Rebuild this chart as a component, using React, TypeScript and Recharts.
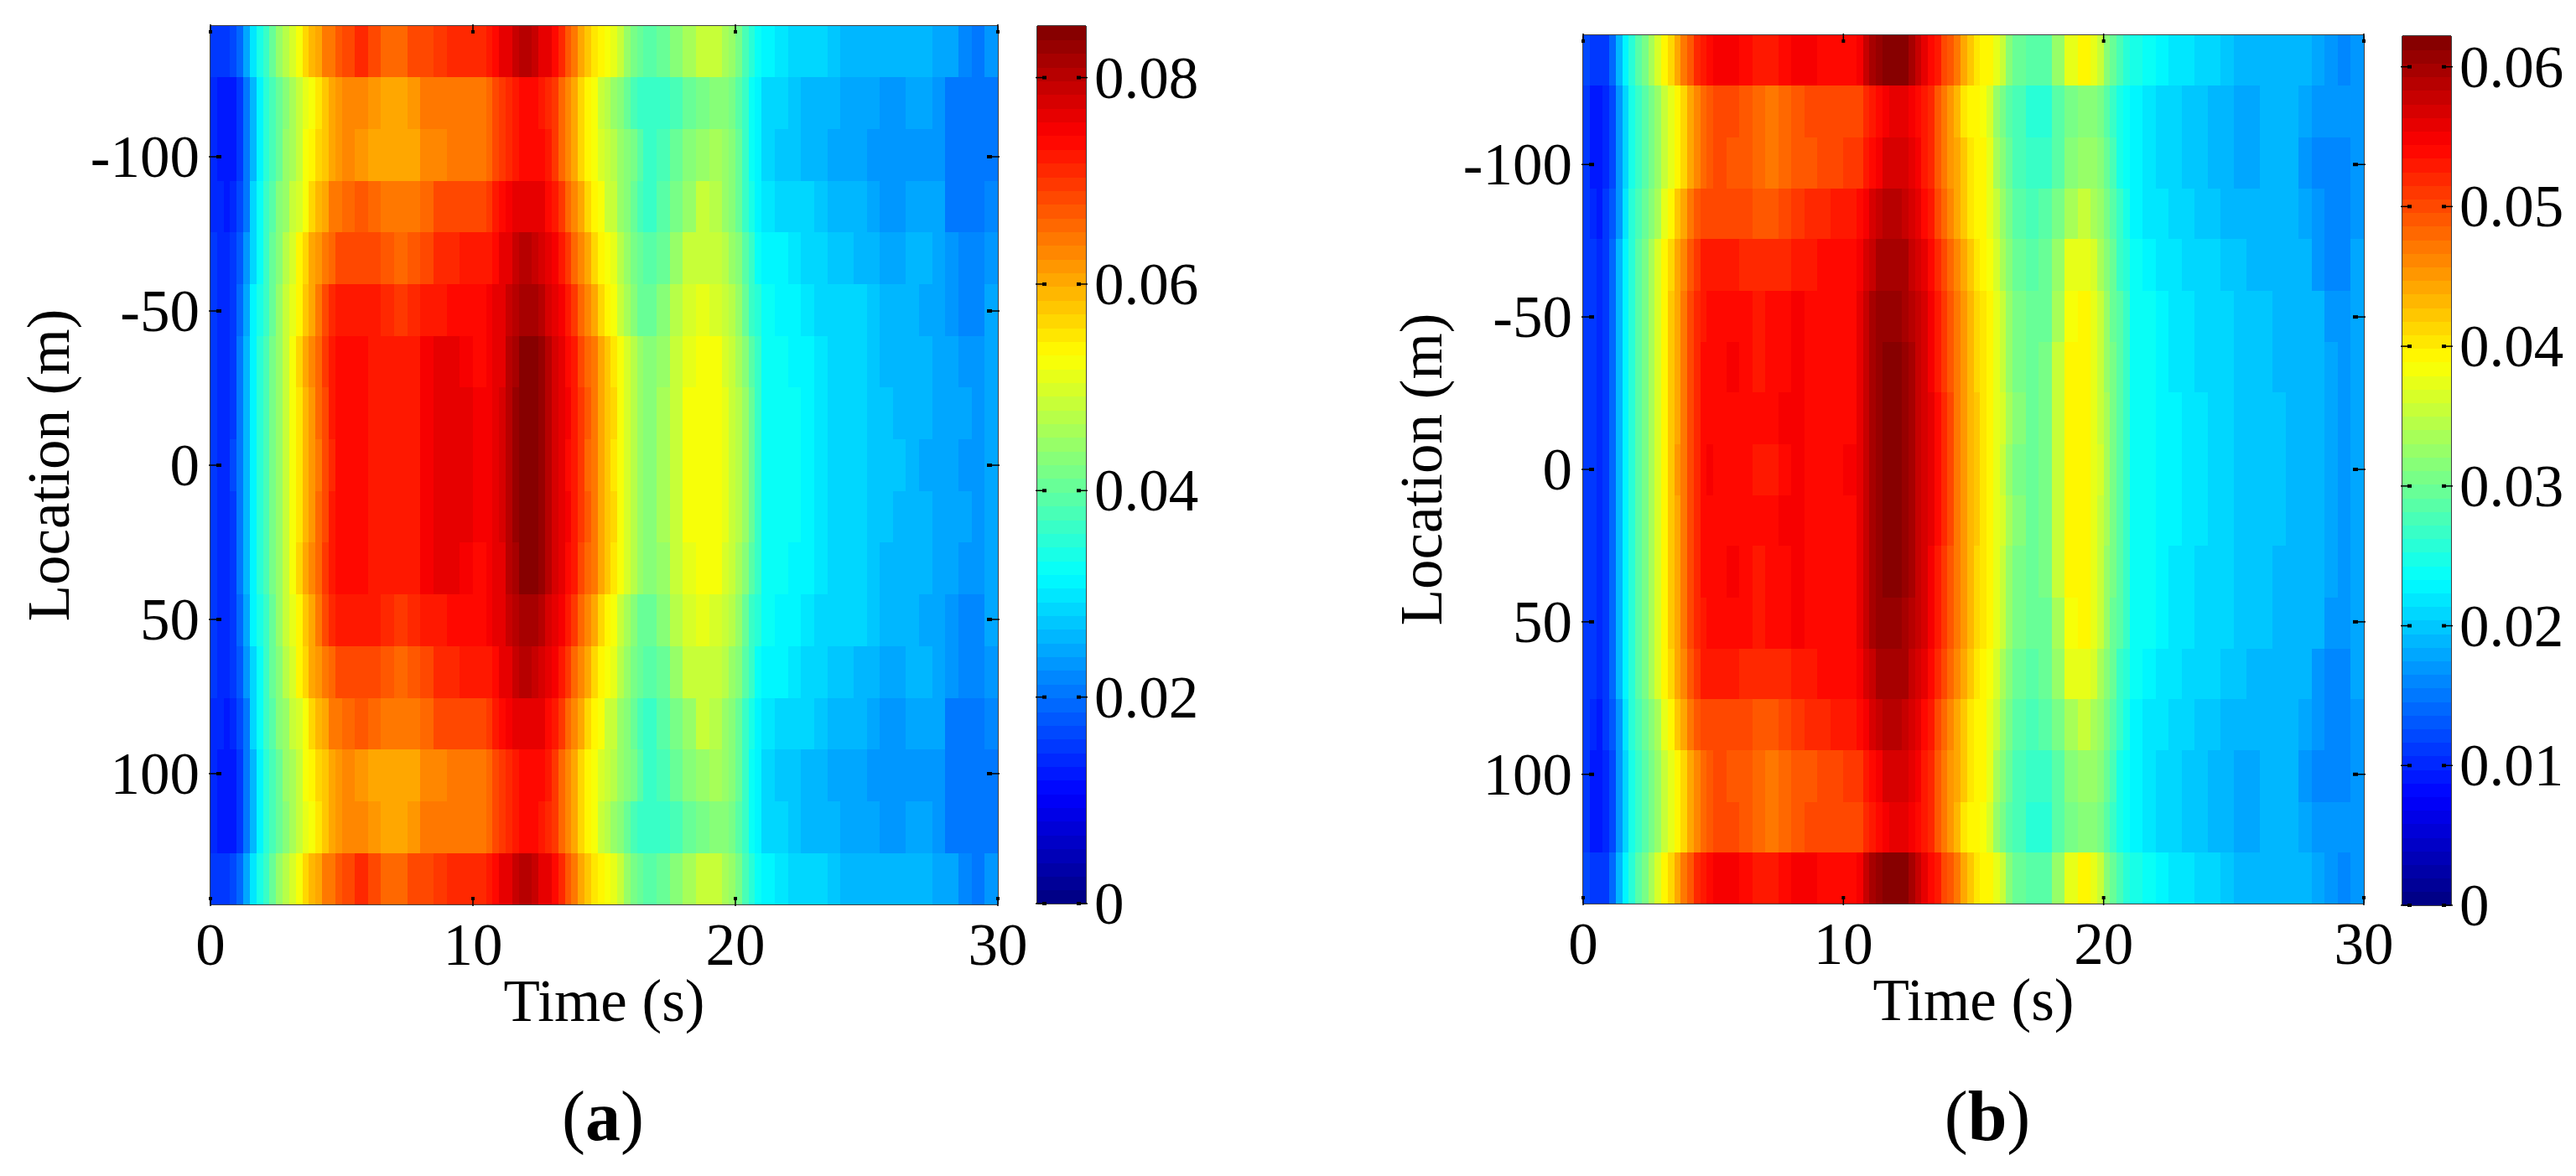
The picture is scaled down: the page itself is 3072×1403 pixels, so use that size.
import { ScatterChart, Scatter, XAxis, YAxis } from "recharts";

const PAGE_W = 3072;
const PAGE_H = 1403;

// column edges of the time grid (s), finer where the colour changes fast
const timeEdges = [
  0, 0.25, 0.5, 0.75, 1, 1.25, 1.5, 1.75, 2, 2.25, 2.5, 2.75, 3, 3.25, 3.5, 3.75, 4, 4.25, 4.5, 4.75,
  5, 5.5, 6, 6.5, 7, 7.5, 8, 8.5, 9, 9.5, 10,
  10.5, 10.75, 11, 11.25, 11.5, 11.75, 12, 12.25, 12.5, 12.75, 13, 13.25, 13.5, 13.75, 14, 14.25, 14.5, 14.75, 15, 15.25, 15.5, 15.75, 16, 16.25,
  16.5, 17, 17.5, 18, 18.5, 19,
  19.5, 19.75, 20, 20.25, 20.5, 20.75,
  21, 21.5, 22, 22.5, 23, 23.5, 24, 24.5, 25, 25.5, 26, 26.5, 27, 27.5, 28, 28.5, 29, 29.5, 30,
];

const locations = [-134.1, -117.4, -100.6, -83.8, -67.1, -50.3, -33.5, -16.8, 0, 16.8, 33.5, 50.3, 67.1, 83.8, 100.6, 117.4, 134.1];

// which measured profile belongs to which location
const rowOrder = [0, 1, 2, 3, 4, 5, 6, 7, 8, 7, 6, 5, 4, 3, 2, 1, 0];

// panel (a) profiles, values in 1e-3
const rowA0 = [15,15,15,16,19,24,30,34,37,41,44,47,50,53,56,59,61,64,65,67, 69,71,68,66,66,68,69,70,71,71,71, 72,74,76,77,79,80,80,79,77,76,74,71,67,64,60,58,55,54,53,51,48,44,42,40, 39,40,43,46,48,48, 46,44,42,38,35,32, 31,30,29,29,28,27,26,26,26,26,26,26,26,25,24,22,21,23];
const rowA1 = [14,13,12,13,15,20,26,31,35,38,41,43,46,48,51,53,55,58,60,62, 63,63,62,61,61,62,64,64,64,65,65, 66,68,70,71,73,74,74,74,73,71,70,66,63,60,56,54,52,49,47,44,43,40,38,37, 36,37,38,40,42,43, 43,42,39,37,33,31, 29,28,27,26,26,26,25,24,24,23,23,24,24,23,20,20,20,21];
const rowA2 = [14,13,12,13,15,20,26,31,35,38,41,44,46,49,52,54,56,58,60,62, 63,62,61,61,61,61,63,63,64,65,65, 66,68,70,71,73,74,74,74,74,72,70,66,63,60,56,54,52,50,48,47,45,43,42,39, 37,38,41,43,45,46, 44,43,40,37,33,31, 28,27,27,26,26,25,24,24,23,23,23,23,23,23,20,20,20,21];
const rowA3 = [14,14,13,14,16,21,28,32,36,39,43,45,48,50,53,56,59,61,64,65, 66,67,66,65,64,65,66,68,69,69,69, 70,72,74,75,77,77,77,77,76,74,73,70,66,63,60,56,54,52,49,48,45,43,40,38, 37,39,42,45,48,47, 45,43,41,37,34,31, 30,29,28,28,27,26,26,26,25,23,23,24,24,24,21,20,20,22];
const rowA4 = [15,14,14,15,18,23,29,33,37,40,43,47,50,54,57,60,62,65,66,68, 69,69,68,67,66,67,69,71,71,72,72, 73,74,76,77,79,80,80,79,78,77,75,73,70,66,63,60,57,54,53,51,47,44,42,40, 39,41,44,48,49,48, 47,45,43,39,36,33, 31,31,30,29,28,27,27,26,26,25,25,26,26,25,23,22,22,23];
const rowA5 = [15,14,14,15,19,25,31,34,37,41,44,48,51,54,58,61,65,68,71,72, 72,73,72,71,70,71,72,73,74,74,74, 75,76,77,79,81,82,82,82,80,78,77,75,73,70,66,63,60,57,54,53,49,46,43,41, 41,43,47,50,51,50, 48,47,44,41,37,35, 32,31,31,30,29,29,28,28,27,26,26,26,25,24,23,22,22,24];
const rowA6 = [15,14,14,15,20,26,31,35,38,42,45,48,53,56,60,63,66,70,72,74, 74,74,73,72,72,73,75,76,76,75,74, 75,76,77,80,82,85,85,85,83,81,78,76,74,72,69,66,64,60,58,55,53,50,47,44, 43,45,48,51,53,52, 50,48,46,43,39,37, 33,32,31,31,30,29,28,28,27,26,26,26,26,25,24,23,23,24];
const rowA7 = [15,14,14,15,20,26,31,35,38,42,45,48,52,55,59,62,66,69,72,74, 74,74,73,73,72,73,75,76,76,76,75, 75,76,78,80,83,85,85,85,83,81,78,76,75,73,70,67,64,61,58,56,53,50,47,45, 43,46,49,52,53,53, 51,49,47,44,40,37, 33,32,32,31,30,29,29,28,27,27,26,26,26,25,24,24,23,25];
const rowA8 = [15,14,14,16,20,26,31,35,38,42,45,48,52,55,59,62,65,69,71,74, 74,74,73,72,72,73,75,76,76,76,75, 75,76,78,80,83,85,85,85,83,81,78,76,74,73,70,66,64,60,58,55,53,50,47,45, 43,46,49,52,53,53, 51,49,47,44,40,37, 33,32,32,31,30,29,28,28,27,27,27,26,25,25,24,23,23,25];

// panel (b) profiles, values in 1e-3
const rowB0 = [12,11,11,11,14,19,23,26,29,31,34,36,39,41,44,47,49,52,53,54, 55,55,54,53,53,54,55,55,54,54,54, 55,58,60,61,62,62,62,62,60,58,56,54,53,50,49,47,44,42,40,39,39,37,35,32, 30,29,29,33,37,39, 37,35,32,30,28,26, 25,24,23,22,22,21,21,20,19,19,19,19,19,19,18,17,16,17];
const rowB1 = [11,9,9,10,12,17,21,25,27,29,31,33,35,37,39,41,44,46,48,49, 50,50,49,48,47,48,49,50,50,50,50, 50,52,53,54,55,56,56,56,55,54,53,52,49,47,45,43,40,39,39,38,36,33,31,29, 28,26,26,29,31,32, 32,31,29,27,25,24, 23,22,21,21,20,20,19,19,18,18,19,19,19,18,17,17,17,17];
const rowB2 = [11,9,9,10,12,17,21,25,27,29,31,33,35,37,39,41,44,46,48,49, 50,49,49,48,47,48,49,49,50,50,51, 51,53,54,55,57,57,57,57,56,55,53,52,49,47,45,44,42,40,39,39,37,34,32,30, 28,27,27,29,32,33, 33,32,30,28,25,24, 23,22,21,21,20,20,19,19,18,18,19,19,19,17,16,16,16,17];
const rowB3 = [11,10,9,11,13,17,22,26,28,30,32,34,37,39,42,44,47,49,50,50, 50,50,50,49,49,50,51,52,52,53,53, 54,55,57,58,59,59,59,58,57,56,54,53,50,48,46,44,42,40,39,39,37,35,33,31, 29,28,29,31,34,35, 34,33,31,29,27,25, 23,22,22,21,21,20,20,19,19,19,19,19,19,18,17,16,16,17];
const rowB4 = [11,11,10,11,14,19,23,26,29,31,34,36,39,41,44,46,49,51,53,53, 53,53,52,52,52,52,53,53,54,54,54, 55,57,58,60,60,60,60,60,58,57,56,54,52,50,48,46,44,42,40,39,38,36,34,32, 30,29,30,33,37,37, 36,34,32,30,27,26, 24,23,22,22,21,21,21,20,20,19,19,19,19,19,17,16,16,18];
const rowB5 = [11,11,10,11,14,19,23,26,29,31,34,36,39,42,44,47,50,52,53,54, 54,54,54,53,54,54,55,54,54,54,54, 56,58,60,61,61,61,61,60,59,58,57,55,53,51,49,47,45,43,41,40,39,37,35,33, 31,30,30,34,38,39, 37,35,33,30,29,27, 24,24,23,22,22,21,21,21,20,20,20,19,19,19,19,17,17,18];
const rowB6 = [11,11,10,11,14,19,23,26,29,31,34,36,39,42,44,47,50,52,54,54, 54,55,54,53,54,54,55,54,54,54,54, 56,58,60,61,62,62,62,61,60,58,57,55,53,51,49,47,45,43,41,40,39,37,35,33, 31,30,31,35,39,39, 37,35,33,31,29,27, 24,24,23,22,22,21,21,21,20,20,20,19,19,19,19,18,17,18];
const rowB7 = [11,11,10,11,14,19,23,26,29,31,34,36,39,42,44,47,50,52,54,54, 54,54,54,54,54,55,55,54,54,54,54, 56,58,60,61,62,62,62,61,60,58,57,56,54,52,50,47,45,43,42,40,39,37,36,34, 32,30,31,35,39,39, 37,35,34,31,29,27, 24,24,23,23,22,22,21,21,20,20,20,20,19,19,19,18,17,18];
const rowB8 = [11,11,10,11,14,19,23,26,29,31,34,36,39,42,45,47,50,52,54,55, 54,54,54,53,53,54,55,54,54,54,55, 56,58,60,61,62,62,62,61,60,58,57,56,54,52,50,47,45,43,42,40,39,37,35,33, 31,30,31,35,39,39, 37,36,34,31,29,27, 24,24,23,23,22,22,21,21,20,20,20,20,19,19,19,18,17,18];

const rowsA = [rowA0, rowA1, rowA2, rowA3, rowA4, rowA5, rowA6, rowA7, rowA8];
const rowsB = [rowB0, rowB1, rowB2, rowB3, rowB4, rowB5, rowB6, rowB7, rowB8];

const timeTicks = [0, 10, 20, 30];
const locationTicks = [-100, -50, 0, 50, 100];
const colorTicksA = [0, 0.02, 0.04, 0.06, 0.08];
const colorTicksB = [0, 0.01, 0.02, 0.03, 0.04, 0.05, 0.06];
const CLIM_A = 0.085;
const CLIM_B = 0.0622;

const FONT = "'Liberation Serif', 'Times New Roman', serif";
const FS = 71;

const clamp = (v: number) => Math.max(0, Math.min(1, v));

// matlab jet with 64 steps
function jet(f: number) {
  const idx = Math.max(0, Math.min(63, Math.floor(f * 64)));
  const q = (idx + 0.5) / 64;
  const r = clamp(Math.min(4 * q - 1.5, -4 * q + 4.5));
  const g = clamp(Math.min(4 * q - 0.5, -4 * q + 3.5));
  const b = clamp(Math.min(4 * q + 0.5, -4 * q + 2.5));
  return `rgb(${Math.round(r * 255)},${Math.round(g * 255)},${Math.round(b * 255)})`;
}

function tickMark(x1: number, y1: number, x2: number, y2: number, x3: number, y3: number) {
  return (
    <g>
      <line x1={x1} y1={y1} x2={x3} y2={y3} stroke="#000" strokeWidth={1.5} />
      <line x1={x2} y1={y2} x2={x3} y2={y3} stroke="#000" strokeWidth={4} />
    </g>
  );
}

const XTickBottom = ({ x, y, payload }: any) => (
  <g>
    {tickMark(x, y, x, y - 7, x, y - 11)}
    <text x={x} y={y + 70} textAnchor="middle" fontSize={FS} fontFamily={FONT} fill="#000">
      {payload.value}
    </text>
  </g>
);
const XTickTop = ({ x, y }: any) => tickMark(x, y, x, y + 7, x, y + 11);
const YTickLeft = ({ x, y, payload }: any) => (
  <g>
    {tickMark(x, y, x + 9, y, x + 15, y)}
    <text x={x - 11} y={y + 24} textAnchor="end" fontSize={FS} fontFamily={FONT} fill="#000">
      {payload.value}
    </text>
  </g>
);
const YTickRight = ({ x, y }: any) => tickMark(x, y, x - 9, y, x - 15, y);

const formatColorTick = (v: number) => (v === 0 ? "0" : v.toFixed(2));

const BarTickLeft = ({ x, y }: any) => tickMark(x, y, x + 8, y, x + 13, y);
const BarTickRight = ({ x, y, payload }: any) => (
  <g>
    {tickMark(x, y, x - 8, y, x - 13, y)}
    <text x={x + 8} y={y + 24} textAnchor="start" fontSize={FS} fontFamily={FONT} fill="#000">
      {formatColorTick(payload.value)}
    </text>
  </g>
);

type Box = { x0: number; x1: number; y0: number; y1: number };

const AXIS_LEFT = 240;
const AXIS_BOTTOM = 150;

function marginFor(b: Box, left: number, bottom: number) {
  return { left: b.x0 - left, right: PAGE_W - b.x1 - 1, top: b.y0 - 1, bottom: PAGE_H - b.y1 - bottom };
}

function HeatPanel({ box, rows, clim, tag }: { box: Box; rows: number[][]; clim: number; tag: string }) {
  const pxPerSec = (box.x1 - box.x0) / 30;
  const rowH = (box.y1 - box.y0) / locations.length;
  const cells = locations.flatMap((location, i) =>
    rows[rowOrder[i]].map((v, c) => ({
      time: (timeEdges[c] + timeEdges[c + 1]) / 2,
      span: timeEdges[c + 1] - timeEdges[c],
      location,
      value: v / 1000,
    }))
  );
  const shape = (p: any) => {
    const w = p.payload.span * pxPerSec;
    return (
      <rect
        x={p.cx - w / 2}
        y={p.cy - rowH / 2}
        width={w + 0.6}
        height={rowH + 0.6}
        fill={jet(p.payload.value / clim)}
        shapeRendering="crispEdges"
      />
    );
  };
  return (
    <div style={{ position: "absolute", left: 0, top: 0 }}>
      <ScatterChart width={PAGE_W} height={PAGE_H} margin={marginFor(box, AXIS_LEFT, AXIS_BOTTOM)}>
        <XAxis
          xAxisId="bottom"
          type="number"
          dataKey="time"
          domain={[0, 30]}
          ticks={timeTicks}
          interval={0}
          height={AXIS_BOTTOM}
          tickSize={0}
          tickLine={false}
          tick={XTickBottom}
          axisLine={{ stroke: "#000", strokeWidth: 1.5 }}
          allowDataOverflow
          label={{ value: "Time (s)", position: "insideBottom", offset: 11, fontSize: FS, fontFamily: FONT, fill: "#000" }}
        />
        <XAxis
          xAxisId="top"
          orientation="top"
          type="number"
          dataKey="time"
          domain={[0, 30]}
          ticks={timeTicks}
          interval={0}
          height={1}
          tickSize={0}
          tickLine={false}
          tick={XTickTop}
          axisLine={{ stroke: "#000", strokeWidth: 1.5 }}
          allowDataOverflow
        />
        <YAxis
          yAxisId="left"
          type="number"
          dataKey="location"
          reversed
          domain={[-142.4, 142.4]}
          ticks={locationTicks}
          interval={0}
          width={AXIS_LEFT}
          tickSize={0}
          tickLine={false}
          tick={YTickLeft}
          axisLine={{ stroke: "#000", strokeWidth: 1.5 }}
          allowDataOverflow
          label={{ value: "Location (m)", angle: -90, position: "insideLeft", offset: 46, fontSize: FS, fontFamily: FONT, fill: "#000", style: { textAnchor: "middle" } }}
        />
        <YAxis
          yAxisId="right"
          orientation="right"
          type="number"
          dataKey="location"
          reversed
          domain={[-142.4, 142.4]}
          ticks={locationTicks}
          interval={0}
          width={1}
          tickSize={0}
          tickLine={false}
          tick={YTickRight}
          axisLine={{ stroke: "#000", strokeWidth: 1.5 }}
          allowDataOverflow
        />
        <Scatter data={cells} xAxisId="bottom" yAxisId="left" shape={shape} isAnimationActive={false} name={tag} />
      </ScatterChart>
    </div>
  );
}

function ColorBar({ box, clim, ticks }: { box: Box; clim: number; ticks: number[] }) {
  const stepH = (box.y1 - box.y0) / 64;
  const levels = Array.from({ length: 64 }, (_, i) => ({ slot: 0, value: ((i + 0.5) / 64) * clim }));
  const shape = (p: any) => (
    <rect
      x={box.x0}
      y={p.cy - stepH / 2}
      width={box.x1 - box.x0}
      height={stepH + 0.6}
      fill={jet(p.payload.value / clim)}
      shapeRendering="crispEdges"
    />
  );
  return (
    <div style={{ position: "absolute", left: 0, top: 0 }}>
      <ScatterChart width={PAGE_W} height={PAGE_H} margin={marginFor(box, 1, 1)}>
        <XAxis xAxisId="bottom" type="number" dataKey="slot" domain={[-1, 1]} height={1} tick={false} tickLine={false} axisLine={{ stroke: "#000", strokeWidth: 1.5 }} />
        <XAxis xAxisId="top" orientation="top" type="number" dataKey="slot" domain={[-1, 1]} height={1} tick={false} tickLine={false} axisLine={{ stroke: "#000", strokeWidth: 1.5 }} />
        <YAxis
          yAxisId="left"
          type="number"
          dataKey="value"
          domain={[0, clim]}
          ticks={ticks}
          interval={0}
          width={1}
          tickSize={0}
          tickLine={false}
          tick={BarTickLeft}
          axisLine={{ stroke: "#000", strokeWidth: 1.5 }}
          allowDataOverflow
        />
        <YAxis
          yAxisId="right"
          orientation="right"
          type="number"
          dataKey="value"
          domain={[0, clim]}
          ticks={ticks}
          interval={0}
          width={1}
          tickSize={0}
          tickLine={false}
          tick={BarTickRight}
          axisLine={{ stroke: "#000", strokeWidth: 1.5 }}
          allowDataOverflow
        />
        <Scatter data={levels} xAxisId="bottom" yAxisId="left" shape={shape} isAnimationActive={false} />
      </ScatterChart>
    </div>
  );
}

function Caption({ x, letter }: { x: number; letter: string }) {
  return (
    <div
      style={{
        position: "absolute",
        left: x - 100,
        top: 1284,
        width: 200,
        textAlign: "center",
        fontFamily: FONT,
        fontSize: 84,
        lineHeight: "96px",
        color: "#000",
      }}
    >
      (<b>{letter}</b>)
    </div>
  );
}

export default function App() {
  return (
    <div style={{ position: "absolute", left: 0, top: 0, width: PAGE_W, height: PAGE_H, background: "#fff", overflow: "hidden" }}>
      <HeatPanel box={{ x0: 251, x1: 1190, y0: 31, y1: 1079 }} rows={rowsA} clim={CLIM_A} tag="a" />
      <ColorBar box={{ x0: 1237, x1: 1295, y0: 31, y1: 1078 }} clim={CLIM_A} ticks={colorTicksA} />
      <HeatPanel box={{ x0: 1888, x1: 2819, y0: 42, y1: 1078 }} rows={rowsB} clim={CLIM_B} tag="b" />
      <ColorBar box={{ x0: 2865, x1: 2923, y0: 43, y1: 1080 }} clim={CLIM_B} ticks={colorTicksB} />
      <Caption x={719} letter="a" />
      <Caption x={2370} letter="b" />
    </div>
  );
}
